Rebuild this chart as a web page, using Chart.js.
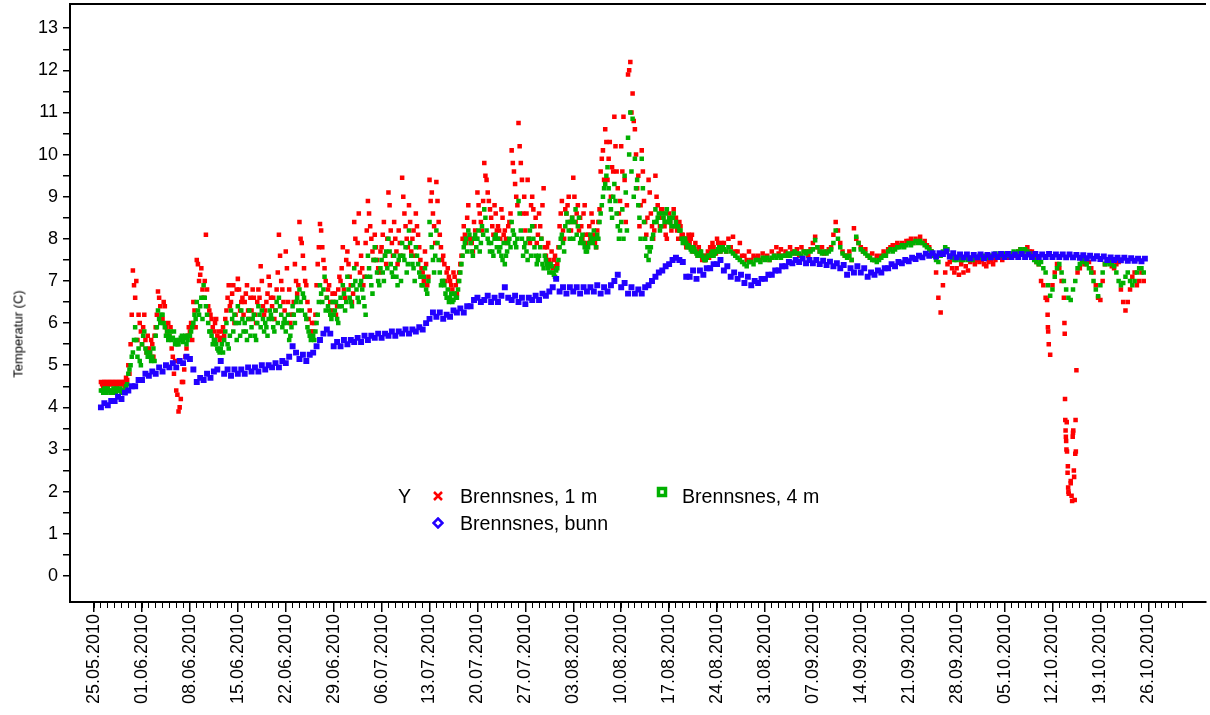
<!DOCTYPE html>
<html>
<head>
<meta charset="utf-8">
<script src="https://cdn.jsdelivr.net/npm/chart.js@4.4.1/dist/chart.umd.min.js"></script>
<style>
  html, body { margin: 0; padding: 0; background: #fff; }
  #wrap { position: relative; width: 1210px; height: 715px; font-family: Arial, "Liberation Sans", sans-serif; }
  #chart { position: absolute; left: 0; top: 0; }
  .lg { position: absolute; font-size: 19.6px; line-height: 20px; color: #000; white-space: nowrap; }
  .mk { position: absolute; }
  #ytitle { position: absolute; left: 18px; top: 334px; font-size: 13px; white-space: nowrap;
            transform: translate(-50%, -50%) rotate(-90deg); }
</style>
</head>
<body>
<div id="wrap">
  <canvas id="chart" width="1210" height="715"></canvas>
  <div id="ytitle">Temperatur (C)</div>
  <div class="lg" style="left:398px;top:486px">Y</div>
  <svg class="mk" style="left:432px;top:490px" width="12" height="12"><path d="M2 2L10 10M10 2L2 10" stroke="#ff0000" stroke-width="2.5"/></svg>
  <div class="lg" style="left:460px;top:486px">Brennsnes, 1 m</div>
  <svg class="mk" style="left:656px;top:486px" width="12" height="12"><rect x="2.5" y="2.5" width="7" height="7" fill="#fff" stroke="#00b000" stroke-width="3.5"/></svg>
  <div class="lg" style="left:682px;top:486px">Brennsnes, 4 m</div>
  <svg class="mk" style="left:432px;top:517px" width="12" height="12"><polygon points="6,1.5 10.5,6 6,10.5 1.5,6" fill="#fff" stroke="#2200ff" stroke-width="2.5"/></svg>
  <div class="lg" style="left:460px;top:513px">Brennsnes, bunn</div>
</div>
<script>
// week labels on the x axis (one every 7 days from 25.05.2010)
const dateLabels = ["25.05.2010", "01.06.2010", "08.06.2010", "15.06.2010", "22.06.2010", "29.06.2010",
  "06.07.2010", "13.07.2010", "20.07.2010", "27.07.2010", "03.08.2010", "10.08.2010", "17.08.2010",
  "24.08.2010", "31.08.2010", "07.09.2010", "14.09.2010", "21.09.2010", "28.09.2010", "05.10.2010",
  "12.10.2010", "19.10.2010", "26.10.2010"];
const yLabels = [0, 1, 2, 3, 4, 5, 6, 7, 8, 9, 10, 11, 12, 13];

// readings start 26.05.2010 00:00; 1 m and 4 m every 8 h, bunn every 12 h
const startDay = 1;
const stepSurface = 1 / 3;
const stepBottom = 1 / 2;

const temp1m = [
  4.6,4.5,4.6, 4.5,4.6,4.55, 4.6,4.5,4.6, 4.55,4.6,4.7, 5.0,5.5,7.25, 6.6,5.6,6.0, 5.5,6.2,5.3,
  5.4,5.6,5.2, 5.9,6.75,6.4, 6.1,6.4,5.8, 5.7,5.4,4.8, 4.4,3.9,4.2, 4.6,5.2,5.7, 5.8,5.6,6.3,
  7.5,7.0,7.3, 6.6,8.1,6.4, 6.2,5.9,6.0, 5.7,5.6,5.8, 5.7,6.3,6.9, 6.5,6.9,6.2, 7.05,6.3,6.6,
  6.5,6.9,6.1, 6.3,6.6,6.0, 6.8,7.35,6.4, 6.3,6.7,6.9, 6.4,6.1,6.8, 8.1,7.0,6.5, 7.7,6.5,6.0,
  6.2,7.4,6.7, 8.4,7.9,7.3, 6.9,6.1,5.8, 5.8,6.2,7.4, 8.35,7.8,7.3, 6.6,6.9,6.3, 6.5,6.2,6.8,
  7.0,7.8,6.6, 7.7,7.1,6.5, 8.4,7.4,8.6, 7.6,6.9,7.9, 8.9,8.3,7.7, 8.1,7.5,7.2, 7.8,8.4,7.4,
  9.1,8.2,7.6, 8.0,7.4,7.9, 9.45,8.6,8.0, 8.8,7.7,8.2, 8.6,8.1,7.5, 7.2,7.7,6.9, 9.4,9.1,8.3,
  9.35,8.4,7.8, 7.6,7.0,7.3, 7.0,6.8,7.1, 6.7,7.2,7.6, 8.3,7.9,8.8, 8.0,7.7,8.2, 9.1,8.6,8.2,
  9.8,9.4,8.9, 8.5,8.1,8.6, 8.3,8.0,8.5, 8.2,7.9,8.4, 10.1,9.6,9.0, 10.75,9.8,8.6, 8.2,9.4,7.9,
  9.0,8.3,7.9, 8.6,8.0,9.2, 7.6,7.9,7.4, 7.3,7.6,7.4, 8.3,8.9,8.0, 8.6,9.0,8.2, 9.45,8.4,8.8,
  8.5,8.0,8.8, 7.9,8.3,8.6, 8.1,7.8,8.4, 9.6,10.1,10.6, 9.4,10.3,9.7, 10.9,9.6,8.6, 10.2,10.9,8.4,
  11.9,12.2,11.45, 10.6,9.2,8.3, 10.1,8.9,8.1, 9.4,8.6,8.0, 9.5,8.8,8.3, 8.7,8.3,8.0, 8.6,8.2,8.7,
  8.5,8.0,8.3, 8.1,7.9,8.0, 7.9,8.1,7.8, 7.7,7.8,7.6, 7.6,7.5,7.7, 7.8,7.9,7.7, 8.0,7.8,7.9,
  7.9,7.7,8.0, 7.8,8.05,7.7, 7.7,7.9,7.6, 7.6,7.5,7.7, 7.5,7.6,7.55, 7.6,7.5,7.65, 7.55,7.6,7.5,
  7.7,7.6,7.8, 7.65,7.75,7.6, 7.7,7.6,7.8, 7.7,7.65,7.75, 7.6,7.8,7.7, 7.7,7.6,7.75, 7.9,8.05,7.8,
  7.7,7.8,7.65, 7.7,7.75,7.8, 8.1,8.4,8.2, 7.9,7.7,7.6, 7.6,7.7,7.5, 8.25,8.0,7.9, 7.8,7.7,7.75,
  7.6,7.55,7.65, 7.5,7.6,7.55, 7.6,7.7,7.65, 7.75,7.8,7.85, 7.8,7.9,7.85, 7.9,7.85,7.95, 7.95,8.0,7.9,
  8.0,7.95,8.05, 7.9,7.95,7.85, 7.8,7.7,7.6, 7.2,6.6,6.25, 6.9,7.2,7.4, 7.45,7.3,7.2, 7.3,7.15,7.4,
  7.2,7.35,7.25, 7.45,7.5,7.4, 7.5,7.45,7.5, 7.4,7.35,7.45, 7.5,7.4,7.5, 7.55,7.6,7.5, 7.6,7.55,7.6,
  7.6,7.65,7.6, 7.7,7.75,7.7, 7.75,7.8,7.7, 7.7,7.6,7.45, 7.4,7.0,6.9, 6.6,5.9,5.25, 6.9,7.2,7.4,
  7.3,7.0,6.6, 3.2,2.0,2.2, 3.4,2.9,7.2, 7.3,7.5,7.4, 7.5,7.45,7.3, 7.2,6.9,6.6, 6.55,7.0,7.4,
  7.5,7.45,7.35, 7.3,7.4,7.45, 6.8,6.5,6.3, 6.5,6.8,7.1, 7.2,6.9,7.0, 7.2,7.0
];

// in-between 1 m readings (04, 12, 20 h) through the warm period, 26.05-24.08
const temp1mMid = [
  4.55,4.6,4.5, 4.6,4.55,4.6, 4.5,4.6,4.55, 4.6,4.5,4.65, 4.8,6.2,6.9, 7.0,6.2,5.8, 5.9,5.6,5.7,
  5.3,5.5,5.7, 6.2,6.6,6.1, 6.5,5.9,6.0, 5.9,5.2,5.1, 4.3,4.0,4.6, 4.9,5.4,5.9, 6.0,6.5,5.9,
  7.4,7.15,6.8, 7.0,6.8,6.3, 6.1,5.8,6.1, 5.8,5.65,5.9, 6.1,6.6,6.4, 6.7,6.0,6.8, 6.8,6.5,6.2,
  6.7,6.3,6.6, 6.8,6.2,6.5, 6.6,7.0,6.2, 6.5,7.1,6.6, 6.6,6.3,7.2, 7.6,6.8,6.3, 7.3,6.8,6.2,
  6.5,7.0,6.9, 8.0,7.6,7.0, 6.5,6.3,6.0, 6.0,6.9,7.8, 8.2,7.5,7.0, 6.8,6.5,6.7, 6.7,6.4,7.1,
  7.3,6.8,7.5, 7.4,6.9,6.7, 8.0,7.9,7.2, 7.3,7.1,8.2, 8.6,8.0,7.5, 7.8,7.3,7.7, 8.1,7.6,8.0,
  8.8,7.9,8.4, 7.7,8.2,7.6, 9.0,8.3,7.8, 8.4,8.0,7.6, 8.3,7.8,7.3, 7.0,7.4,7.1, 8.9,8.6,7.9,
  8.9,8.1,7.5, 7.4,7.2,7.1, 6.9,7.2,6.9, 7.0,7.4,8.0, 8.1,8.5,8.0, 7.9,8.4,8.0, 8.8,8.4,8.9,
  9.5,9.1,8.7, 8.3,8.8,8.2, 8.2,8.7,8.1, 8.0,8.3,8.6, 9.8,9.3,8.8, 10.2,9.4,9.0, 8.6,8.0,8.8,
  8.7,8.5,8.1, 8.3,8.8,7.8, 7.8,7.5,7.7, 7.5,7.35,7.8, 8.6,8.2,8.7, 8.8,8.4,8.5, 9.0,8.6,8.2,
  8.3,8.6,8.1, 8.1,8.0,8.4, 7.9,8.2,8.7, 9.9,9.4,10.3, 9.9,9.0,9.6, 10.2,9.2,8.9, 9.6,9.4,8.8,
  12.0,11.0,10.8, 10.0,9.5,8.8, 9.6,8.4,8.5, 9.1,8.3,8.2, 9.0,8.5,8.7, 8.5,8.1,8.4, 8.4,8.5,8.3,
  8.2,8.4,8.1, 8.0,7.8,8.1, 8.0,7.7,7.9, 7.6,7.7,7.5, 7.5,7.6,7.55, 7.7,7.8,7.65, 7.9,7.7,7.85
];

// extra hourly 1 m readings in the October cold spells
const dipTimes = ["2010-10-11T05:00", "2010-10-11T07:00", "2010-10-11T09:00", "2010-10-11T11:00",
  "2010-10-13T18:00", "2010-10-13T19:00", "2010-10-13T20:00", "2010-10-13T21:00", "2010-10-13T22:00",
  "2010-10-13T23:00", "2010-10-14T01:00", "2010-10-14T02:00", "2010-10-14T03:00", "2010-10-14T05:00",
  "2010-10-14T06:00", "2010-10-14T07:00", "2010-10-14T09:00", "2010-10-14T16:00", "2010-10-14T19:00",
  "2010-10-14T21:00", "2010-10-14T23:00", "2010-10-15T01:00", "2010-10-15T03:00", "2010-10-15T04:00",
  "2010-10-15T06:00", "2010-10-15T09:00", "2010-10-15T10:00", "2010-10-15T12:00"];
const dipValues = [6.55, 6.2, 5.8, 5.5,
  6.0, 5.75, 4.2, 3.7, 3.45,
  3.3, 3.0, 3.65, 2.95, 2.45,
  2.6, 2.1, 1.95, 2.25, 1.9,
  1.78, 3.3, 3.45, 2.5, 2.35,
  1.8, 3.7, 2.95, 4.88];

const temp4m = [
  4.4,4.35,4.4, 4.45,4.4,4.35, 4.4,4.45,4.4, 4.35,4.4,4.5, 4.8,5.0,5.3, 5.9,5.2,5.1, 5.5,5.8,5.3,
  5.2,5.1,5.4, 5.7,6.3,6.0, 6.2,5.9,5.8, 5.7,5.6,5.8, 5.6,5.5,5.65, 5.55,5.7,5.6, 5.7,5.9,6.2,
  6.5,6.2,6.6, 6.9,6.4,6.0, 5.8,5.5,5.6, 5.4,5.3,5.5, 5.6,6.0,5.4, 6.3,5.8,6.0, 6.4,5.7,6.1,
  6.0,5.6,6.3, 5.9,6.2,5.6, 6.4,5.9,6.1, 6.0,5.7,6.3, 6.1,5.8,6.5, 6.6,6.2,6.0, 5.8,6.2,5.7,
  6.4,6.0,6.6, 6.8,6.3,6.6, 6.1,5.8,5.6, 5.7,5.8,6.2, 6.9,6.5,7.1, 6.6,6.3,6.1, 6.2,6.5,6.0,
  6.6,6.9,6.3, 7.1,6.6,6.4, 7.3,6.8,6.5, 7.0,6.6,6.2, 7.6,7.1,6.7, 7.8,7.2,6.9, 7.5,7.0,7.7,
  8.0,7.4,7.1, 7.3,6.9,7.6, 7.9,7.5,7.2, 8.2,7.6,7.3, 7.8,7.4,7.1, 6.9,7.3,6.7, 8.4,7.8,7.2,
  8.2,7.5,6.9, 7.0,6.7,6.8, 6.6,6.5,6.7, 6.6,7.0,7.4, 7.8,8.0,8.2, 7.9,7.6,8.1, 8.0,7.7,8.3,
  8.7,8.2,7.9, 7.9,7.6,8.1, 8.0,7.8,7.5, 7.4,7.7,8.0, 8.4,8.1,7.8, 8.9,8.2,7.6, 7.9,7.5,8.2,
  8.3,7.8,7.4, 7.6,8.0,7.3, 7.5,7.3,7.4, 7.2,7.1,7.3, 7.8,8.1,7.7, 8.6,8.2,8.4, 8.0,8.7,8.3,
  7.9,8.1,7.8, 7.7,7.9,8.0, 8.2,7.8,8.0, 8.6,9.0,9.3, 9.7,8.9,8.5, 9.3,8.6,8.0, 8.4,8.0,9.1,
  10.4,11.0,10.85, 9.9,9.4,8.5, 9.9,8.4,7.6, 7.5,7.8,8.1, 8.7,8.5,8.2, 8.6,8.4,8.7, 8.5,8.3,8.6,
  8.4,8.3,8.2, 7.9,8.0,7.8, 7.8,7.7,7.75, 7.65,7.6,7.7, 7.55,7.5,7.6, 7.6,7.7,7.65, 7.7,7.8,7.75,
  7.75,7.7,7.8, 7.7,7.65,7.6, 7.55,7.5,7.45, 7.4,7.35,7.45, 7.45,7.4,7.5, 7.5,7.45,7.55, 7.5,7.55,7.5,
  7.55,7.6,7.55, 7.6,7.55,7.6, 7.6,7.65,7.6, 7.65,7.7,7.65, 7.65,7.6,7.7, 7.65,7.7,7.7, 7.75,7.97,7.8,
  7.7,7.65,7.7, 7.65,7.7,7.75, 7.9,8.2,8.0, 7.8,7.65,7.6, 7.55,7.6,7.5, 7.75,8.05,7.9, 7.75,7.7,7.65,
  7.6,7.55,7.5, 7.5,7.45,7.5, 7.55,7.6,7.6, 7.7,7.75,7.7, 7.75,7.8,7.8, 7.85,7.8,7.85, 7.9,7.85,7.9,
  7.95,7.9,7.95, 7.9,7.85,7.8, 7.75,7.7,7.6, 7.5,7.45,7.6, 7.7,7.8,7.75, 7.6,7.55,7.5, 7.5,7.55,7.5,
  7.5,7.55,7.5, 7.55,7.5,7.55, 7.55,7.6,7.55, 7.6,7.55,7.6, 7.6,7.6,7.65, 7.6,7.65,7.6, 7.65,7.6,7.65,
  7.65,7.7,7.65, 7.7,7.75,7.7, 7.75,7.7,7.65, 7.6,7.5,7.45, 7.4,7.45,7.3, 7.2,6.9,6.65, 6.8,7.1,7.3,
  7.4,7.2,7.0, 6.8,6.6,6.55, 6.8,7.0,7.3, 7.4,7.5,7.45, 7.4,7.3,7.2, 7.0,6.8,6.64, 6.9,7.2,7.4,
  7.45,7.4,7.45, 7.35,7.2,7.0, 6.9,6.95,7.1, 7.2,7.0,6.9, 7.0,7.2,7.3, 7.3,7.2
];

// in-between 4 m readings (04, 12, 20 h), 26.05-24.08
const temp4mMid = [
  4.4,4.45,4.35, 4.4,4.35,4.45, 4.35,4.4,4.45, 4.4,4.35,4.55, 4.9,5.2,5.6, 5.6,5.4,5.0, 5.7,5.4,5.2,
  5.3,5.2,5.1, 5.9,6.1,6.2, 6.0,5.7,5.6, 5.8,5.65,5.5, 5.5,5.6,5.7, 5.65,5.5,5.7, 5.8,6.0,6.1,
  6.3,6.4,6.1, 6.6,6.2,5.8, 5.7,5.6,5.5, 5.35,5.4,5.3, 5.8,5.5,5.7, 6.1,6.2,5.6, 6.0,6.3,5.8,
  5.8,6.1,5.7, 6.1,5.7,6.0, 6.2,6.3,5.8, 5.9,6.1,6.2, 5.9,6.3,6.0, 6.4,5.9,6.1, 6.0,5.6,5.9,
  6.2,6.5,6.3, 6.5,6.7,6.2, 5.9,5.7,5.65, 5.6,6.0,6.5, 6.7,6.8,6.3, 6.4,6.2,6.5, 6.3,6.1,6.4,
  6.4,6.7,6.5, 6.8,6.5,6.9, 7.0,6.6,6.9, 6.8,6.4,7.1, 7.3,6.9,7.5, 7.5,7.0,7.3, 7.2,7.6,7.3,
  7.7,7.2,7.6, 7.1,7.5,7.0, 7.6,7.8,7.4, 7.9,7.4,7.0, 7.6,7.2,6.9, 7.1,6.8,7.0, 8.1,7.5,7.6,
  7.9,7.2,7.0, 6.9,6.6,6.5, 6.7,6.55,6.6, 6.8,7.2,7.6, 7.9,7.7,8.1, 7.7,8.0,7.8, 8.2,7.9,8.1,
  8.5,8.0,7.7, 7.7,8.0,7.8, 7.7,7.6,7.9, 7.6,7.9,7.8, 8.2,7.9,8.0, 8.6,8.0,7.8, 7.7,8.0,7.6,
  8.0,7.6,7.5, 7.8,7.4,7.6, 7.4,7.2,7.35, 7.15,7.25,7.5, 8.0,7.9,8.3, 8.4,8.0,8.5, 8.4,8.1,8.5,
  8.0,7.9,7.7, 7.8,8.1,7.9, 8.0,8.1,8.4, 8.8,9.2,9.5, 9.2,8.7,9.0, 8.9,8.3,8.2, 8.7,9.5,8.2,
  10.0,9.6,9.0, 9.2,8.8,8.0, 9.2,8.0,7.8, 7.7,8.0,8.4, 8.4,8.6,8.3, 8.5,8.6,8.4, 8.4,8.5,8.3,
  8.3,8.2,8.0, 8.0,7.9,7.85, 7.75,7.8,7.7, 7.6,7.65,7.6, 7.5,7.55,7.6, 7.65,7.6,7.7, 7.75,7.7,7.8
];

const tempBunn = [
  4.0,4.1, 4.05,4.15, 4.15,4.25, 4.2,4.35, 4.4,4.5, 4.5,4.65, 4.65,4.8,
  4.75,4.85, 4.8,4.95, 4.85,5.0, 4.95,5.05, 4.95,5.1, 5.05,5.2, 5.15,4.9,
  4.6,4.7, 4.65,4.8, 4.7,4.85, 4.9,5.1, 4.8,4.9, 4.75,4.9, 4.8,4.9,
  4.8,4.95, 4.85,4.95, 4.85,5.0, 4.9,5.0, 4.95,5.05, 4.95,5.1, 5.05,5.2,
  5.45,5.3, 5.15,5.25, 5.1,5.25, 5.3,5.45, 5.6,5.75, 5.85,5.75, 5.45,5.55,
  5.45,5.6, 5.5,5.6, 5.55,5.65, 5.55,5.7, 5.6,5.7, 5.65,5.75, 5.65,5.75,
  5.7,5.8, 5.7,5.8, 5.75,5.85, 5.75,5.85, 5.8,5.9, 5.85,6.0, 6.1,6.25,
  6.15,6.25, 6.1,6.2, 6.15,6.3, 6.25,6.35, 6.25,6.4, 6.4,6.55, 6.6,6.5,
  6.55,6.65, 6.5,6.6, 6.5,6.65, 6.85,6.6, 6.55,6.65, 6.5,6.6, 6.45,6.6,
  6.55,6.65, 6.55,6.7, 6.65,6.75, 6.85,7.05, 6.75,6.85, 6.7,6.85, 6.75,6.85,
  6.7,6.85, 6.75,6.85, 6.75,6.9, 6.7,6.85, 6.75,6.9, 7.0,7.15, 6.85,6.95,
  6.7,6.85, 6.7,6.8, 6.7,6.85, 6.9,7.0, 7.1,7.2, 7.25,7.35, 7.4,7.5,
  7.55,7.5, 7.45,7.1, 7.1,7.25, 7.05,7.25, 7.15,7.3, 7.3,7.4, 7.4,7.5,
  7.25,7.35, 7.1,7.2, 7.05,7.15, 6.95,7.1, 6.9,7.0, 6.95,7.05, 7.05,7.15,
  7.15,7.25, 7.25,7.35, 7.35,7.45, 7.42,7.5, 7.45,7.53, 7.42,7.5, 7.42,7.5,
  7.4,7.48, 7.38,7.46, 7.35,7.42, 7.3,7.38, 7.15,7.3, 7.2,7.35, 7.2,7.3,
  7.1,7.2, 7.15,7.25, 7.2,7.3, 7.3,7.4, 7.35,7.45, 7.42,7.5, 7.47,7.55,
  7.52,7.6, 7.56,7.65, 7.6,7.66, 7.58,7.66, 7.64,7.7, 7.58,7.66, 7.56,7.63,
  7.56,7.63, 7.54,7.62, 7.56,7.63, 7.54,7.62, 7.56,7.63, 7.57,7.64, 7.57,7.64,
  7.57,7.63, 7.57,7.64, 7.57,7.63, 7.57,7.64, 7.57,7.63, 7.57,7.64, 7.57,7.63,
  7.57,7.63, 7.56,7.63, 7.56,7.62, 7.55,7.61, 7.54,7.6, 7.53,7.59, 7.52,7.58,
  7.5,7.56, 7.5,7.55, 7.49,7.55, 7.48,7.54, 7.48,7.53, 7.47,7.53
];

const baseTime = Date.UTC(2010, 4, 25);
const dayMs = 86400000;
const xMin = -3.52, xMax = 162.4;
const yMin = -0.62, yMax = 13.57;

const pts1m = temp1m.map((v, i) => ({ x: startDay + i * stepSurface, y: v }));
temp1mMid.forEach((v, i) => pts1m.push({ x: startDay + stepSurface / 2 + i * stepSurface, y: v }));
dipTimes.forEach((t, i) => pts1m.push({ x: (Date.parse(t + "Z") - baseTime) / dayMs, y: dipValues[i] }));
const pts4m = temp4m.map((v, i) => ({ x: startDay + i * stepSurface, y: v }));
temp4mMid.forEach((v, i) => pts4m.push({ x: startDay + stepSurface / 2 + i * stepSurface, y: v }));
const ptsBunn = tempBunn.map((v, i) => ({ x: startDay + i * stepBottom, y: v }));

const weekTicks = dateLabels.map((_, i) => ({ value: i * 7 }));
const dayTicks = [];
for (let d = 0; d <= 159; d++) dayTicks.push({ value: d });
const halfTicks = [];
yLabels.forEach(v => { halfTicks.push({ value: v }); if (v < 13) halfTicks.push({ value: v + 0.5 }); });

const fontFamily = "Arial, 'Liberation Sans', sans-serif";

new Chart(document.getElementById("chart"), {
  type: "scatter",
  data: {
    datasets: [
      { label: "Brennsnes, 1 m", data: pts1m, backgroundColor: "#ff0000", order: 3 },
      { label: "Brennsnes, 4 m", data: pts4m, backgroundColor: "#00b000", order: 2 },
      { label: "Brennsnes, bunn", data: ptsBunn, backgroundColor: "#2200ff", order: 1, pointRadius: 4.2 }
    ]
  },
  options: {
    responsive: false,
    animation: false,
    devicePixelRatio: 1,
    layout: { padding: { top: 4, right: 0, left: 0, bottom: 0 } },
    elements: {
      point: { pointStyle: "rect", radius: 3.2, borderWidth: 0, hoverRadius: 3.2 }
    },
    plugins: {
      legend: { display: false },
      tooltip: { enabled: false }
    },
    scales: {
      x: {
        type: "linear",
        position: "bottom",
        min: xMin,
        max: xMax,
        afterBuildTicks: s => { s.ticks = weekTicks.slice(); },
        afterFit: s => { s.height = 113; s.paddingLeft = 0; s.paddingRight = 0; },
        ticks: {
          autoSkip: false,
          minRotation: 90,
          maxRotation: 90,
          padding: 2,
          color: "#000",
          font: { family: fontFamily, size: 18 },
          callback: v => dateLabels[Math.round(v / 7)]
        },
        grid: { drawOnChartArea: false, tickLength: 10, color: "#000", lineWidth: 1.5 },
        border: { color: "#000", width: 2 }
      },
      xMinor: {
        type: "linear",
        axis: "x",
        position: { y: yMin },
        min: xMin,
        max: xMax,
        afterBuildTicks: s => { s.ticks = dayTicks.slice(); },
        ticks: { display: false },
        grid: { drawOnChartArea: false, tickLength: 6, color: "#000", lineWidth: 1 },
        border: { display: false }
      },
      xTop: {
        type: "linear",
        axis: "x",
        position: "top",
        min: xMin,
        max: xMax,
        ticks: { display: false },
        grid: { display: false, drawTicks: false },
        border: { color: "#000", width: 2 },
        afterFit: s => { s.height = 0; s.paddingLeft = 0; s.paddingRight = 0; }
      },
      y: {
        type: "linear",
        min: yMin,
        max: yMax,
        afterBuildTicks: s => { s.ticks = halfTicks.slice(); },
        afterFit: s => { s.width = 70; s.paddingTop = 0; s.paddingBottom = 0; },
        ticks: {
          autoSkip: false,
          padding: 5,
          color: "#000",
          font: { family: fontFamily, size: 18 },
          callback: v => Number.isInteger(v) ? String(v) : ""
        },
        grid: { drawOnChartArea: false, tickLength: 7, color: "#000", lineWidth: 1.5 },
        border: { color: "#000", width: 2 }
      }
    }
  }
});
</script>
</body>
</html>
